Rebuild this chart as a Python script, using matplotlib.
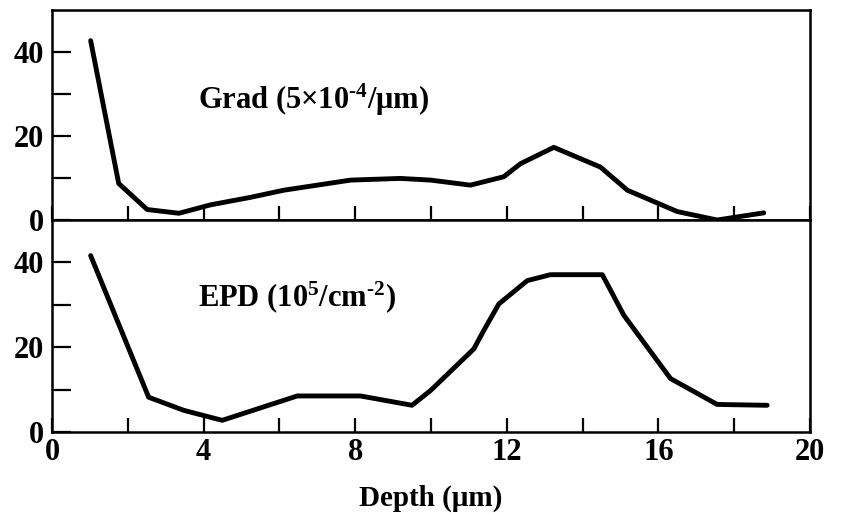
import matplotlib
matplotlib.use("Agg")
import matplotlib.pyplot as plt
from matplotlib.ticker import MultipleLocator, FixedLocator

# Gradient profile vs depth
grad_depth = [1.02, 1.76, 2.51, 3.35, 4.18, 5.24, 6.12, 7.88, 9.19, 9.99, 11.04,
              11.92, 12.36, 13.24, 14.47, 15.18, 16.5, 17.55, 18.78]
grad_vals = [42.7, 8.7, 2.5, 1.6, 3.6, 5.4, 7.1, 9.5, 9.9, 9.5, 8.3,
             10.3, 13.4, 17.3, 12.6, 7.1, 2.0, 0.0, 1.7]

# Etch pit density vs depth
epd_depth = [1.02, 2.55, 3.48, 4.49, 6.47, 8.14, 9.5, 9.99, 11.13, 11.39, 11.79,
             12.54, 13.15, 14.52, 15.09, 16.32, 17.55, 18.87]
epd_vals = [41.6, 8.2, 5.1, 2.75, 8.5, 8.5, 6.3, 9.8, 19.6, 23.9, 30.2,
            35.7, 37.1, 37.1, 27.5, 12.6, 6.5, 6.3]

x_ticks = [0, 4, 8, 12, 16, 20]
y_ticks = [0, 20, 40]

plt.rcParams["font.family"] = ["Liberation Serif", "DejaVu Serif"]
plt.rcParams["font.weight"] = "bold"
plt.rcParams["mathtext.fontset"] = "custom"
plt.rcParams["mathtext.rm"] = "Liberation Serif:bold"
plt.rcParams["mathtext.it"] = "Liberation Serif:bold"
plt.rcParams["mathtext.bf"] = "Liberation Serif:bold"

fig = plt.figure(figsize=(8.53, 5.14), dpi=100)
left, right = 52 / 853, 810 / 853
y_top, y_mid, y_bot = 1 - 10 / 514, 1 - 220 / 514, 1 - 432 / 514
ax1 = fig.add_axes([left, y_mid, right - left, y_top - y_mid])
ax2 = fig.add_axes([left, y_bot, right - left, y_mid - y_bot], sharex=ax1)

ax1.plot(grad_depth, grad_vals, color="black", lw=3.5, solid_joinstyle="round",
         solid_capstyle="round")
ax2.plot(epd_depth, epd_vals, color="black", lw=3.5, solid_joinstyle="round",
         solid_capstyle="round")

for ax in (ax1, ax2):
    ax.set_xlim(0, 20)
    ax.set_ylim(0, 50)
    ax.yaxis.set_major_locator(FixedLocator(y_ticks))
    ax.yaxis.set_minor_locator(FixedLocator([10, 30]))
    ax.xaxis.set_major_locator(FixedLocator(x_ticks))
    ax.xaxis.set_minor_locator(MultipleLocator(2))
    ax.tick_params(axis="y", which="both", direction="in", length=14, width=1.6,
                   labelsize=22, pad=6)
    ax.tick_params(axis="x", which="both", direction="in", length=10, width=1.6,
                   labelsize=22, pad=4)
    for s in ax.spines.values():
        s.set_linewidth(1.8)

ax1.tick_params(axis="x", labelbottom=False)

ax1.text(3.85, 28.5, "Grad (5×10$^{\u2010 4}$/μm)", fontsize=22, fontweight="bold",
         va="center", ha="left")
ax2.text(3.85, 31.7, "EPD (10$^{5}$/cm$^{\u2010 2}$)", fontsize=22, fontweight="bold",
         va="center", ha="left")

ax2.set_xlabel("Depth (μm)", fontsize=21, fontweight="bold", labelpad=13)

fig.savefig("out.png", dpi=100)
